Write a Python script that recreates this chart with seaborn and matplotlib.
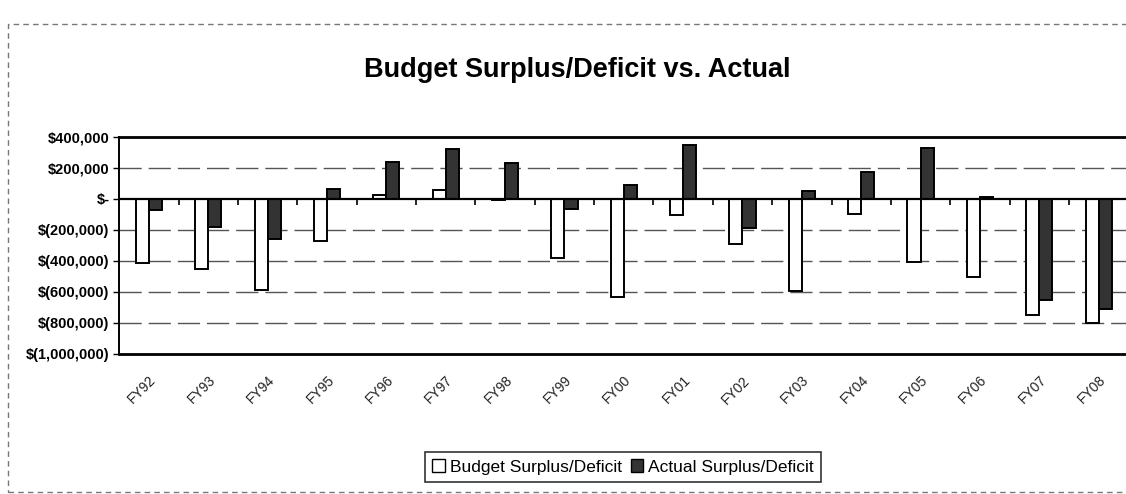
import numpy as np
import pandas as pd
import matplotlib
matplotlib.use('Agg')
import matplotlib.pyplot as plt
import seaborn as sns
from matplotlib.patches import Rectangle

# values
years = ['FY92', 'FY93', 'FY94', 'FY95', 'FY96', 'FY97', 'FY98', 'FY99', 'FY00',
         'FY01', 'FY02', 'FY03', 'FY04', 'FY05', 'FY06', 'FY07', 'FY08']
budget = [-415000, -455000, -590000, -270000, 25000, 55000, -10000, -385000, -635000,
          -105000, -290000, -595000, -95000, -410000, -505000, -750000, -805000]
actual = [-75000, -180000, -260000, 65000, 240000, 320000, 230000, -65000, 90000,
          345000, -190000, 50000, 175000, 330000, 10000, -655000, -710000]
series = ['Budget Surplus/Deficit', 'Actual Surplus/Deficit']
yticks = [400000, 200000, 0, -200000, -400000, -600000, -800000, -1000000]

df = pd.DataFrame({
    'year': years * 2,
    'value': budget + actual,
    'series': [series[0]] * len(years) + [series[1]] * len(years),
})

sns.set_style('white')
plt.rcParams['font.family'] = ['Liberation Sans', 'DejaVu Sans']
plt.rcParams['text.color'] = 'black'
plt.rcParams['xtick.color'] = 'black'
plt.rcParams['ytick.color'] = 'black'

fig = plt.figure(figsize=(11.26, 4.94), dpi=100)
ax = fig.add_axes([0.106, 0.284, 0.896, 0.439])

sns.barplot(data=df, x='year', y='value', hue='series', order=years, hue_order=series,
            palette={series[0]: 'white', series[1]: '#333333'}, edgecolor='black',
            linewidth=1.4, width=0.44, ax=ax, legend=False, zorder=3)

ax.set_xlim(-0.5, len(years) - 0.5)
ax.set_ylim(-1000000, 400000)


def money(v):
    if v == 0:
        return '$-'
    if v < 0:
        return '$({:,})'.format(-v)
    return '${:,}'.format(v)


ax.set_yticks(yticks)
ax.set_yticklabels([money(v) for v in yticks], fontsize=10.5, fontweight='bold')
ax.tick_params(axis='y', length=4, width=1, direction='out', color='black', pad=3, left=True)
ax.set_xticks(range(len(years)))
ax.set_xticklabels(years, rotation=45, ha='right', rotation_mode='anchor', fontsize=10, color='#222')
ax.tick_params(axis='x', length=0, pad=14)
ax.set_xlabel('')
ax.set_ylabel('')

# broken grey gridlines like the scan
for v in yticks[1:-1]:
    if v != 0:
        ax.axhline(v, color='#555', lw=1, ls=(0, (16, 5)), zorder=1)
ax.axhline(0, color='black', lw=1.6, zorder=4)
ax.vlines(np.arange(0.5, len(years) - 0.5), -40000, 0, color='black', lw=1.2, zorder=4)

for side in ['top', 'bottom']:
    ax.spines[side].set_linewidth(2)
    ax.spines[side].set_color('black')
ax.spines['left'].set_linewidth(1.4)
ax.spines['left'].set_color('black')
ax.spines['right'].set_visible(False)

fig.text(0.513, 1 - 70 / 494, 'Budget Surplus/Deficit vs. Actual', ha='center', va='center',
         fontsize=19.5, fontweight='bold', color='black')

handles = [Rectangle((0, 0), 1, 1, facecolor='white', edgecolor='black', lw=1),
           Rectangle((0, 0), 1, 1, facecolor='#333333', edgecolor='black', lw=1)]
leg = fig.legend(handles, series, loc='center', bbox_to_anchor=(623 / 1126, 1 - 467 / 494),
                 ncol=2, fontsize=12.5, frameon=True, fancybox=False, edgecolor='black',
                 handlelength=0.7, handleheight=0.7, handletextpad=0.3, columnspacing=0.5,
                 borderpad=0.45)
leg.get_frame().set_linewidth(1.2)

# outer chart-area border (dotted in the scan)
fig.patches.append(Rectangle((8 / 1126, 0.005), 1.0, 1 - 24 / 494 - 0.005,
                             transform=fig.transFigure, fill=False, edgecolor='#777',
                             lw=1, ls=(0, (4, 3))))

fig.savefig('out.png', dpi=100, facecolor='white')
